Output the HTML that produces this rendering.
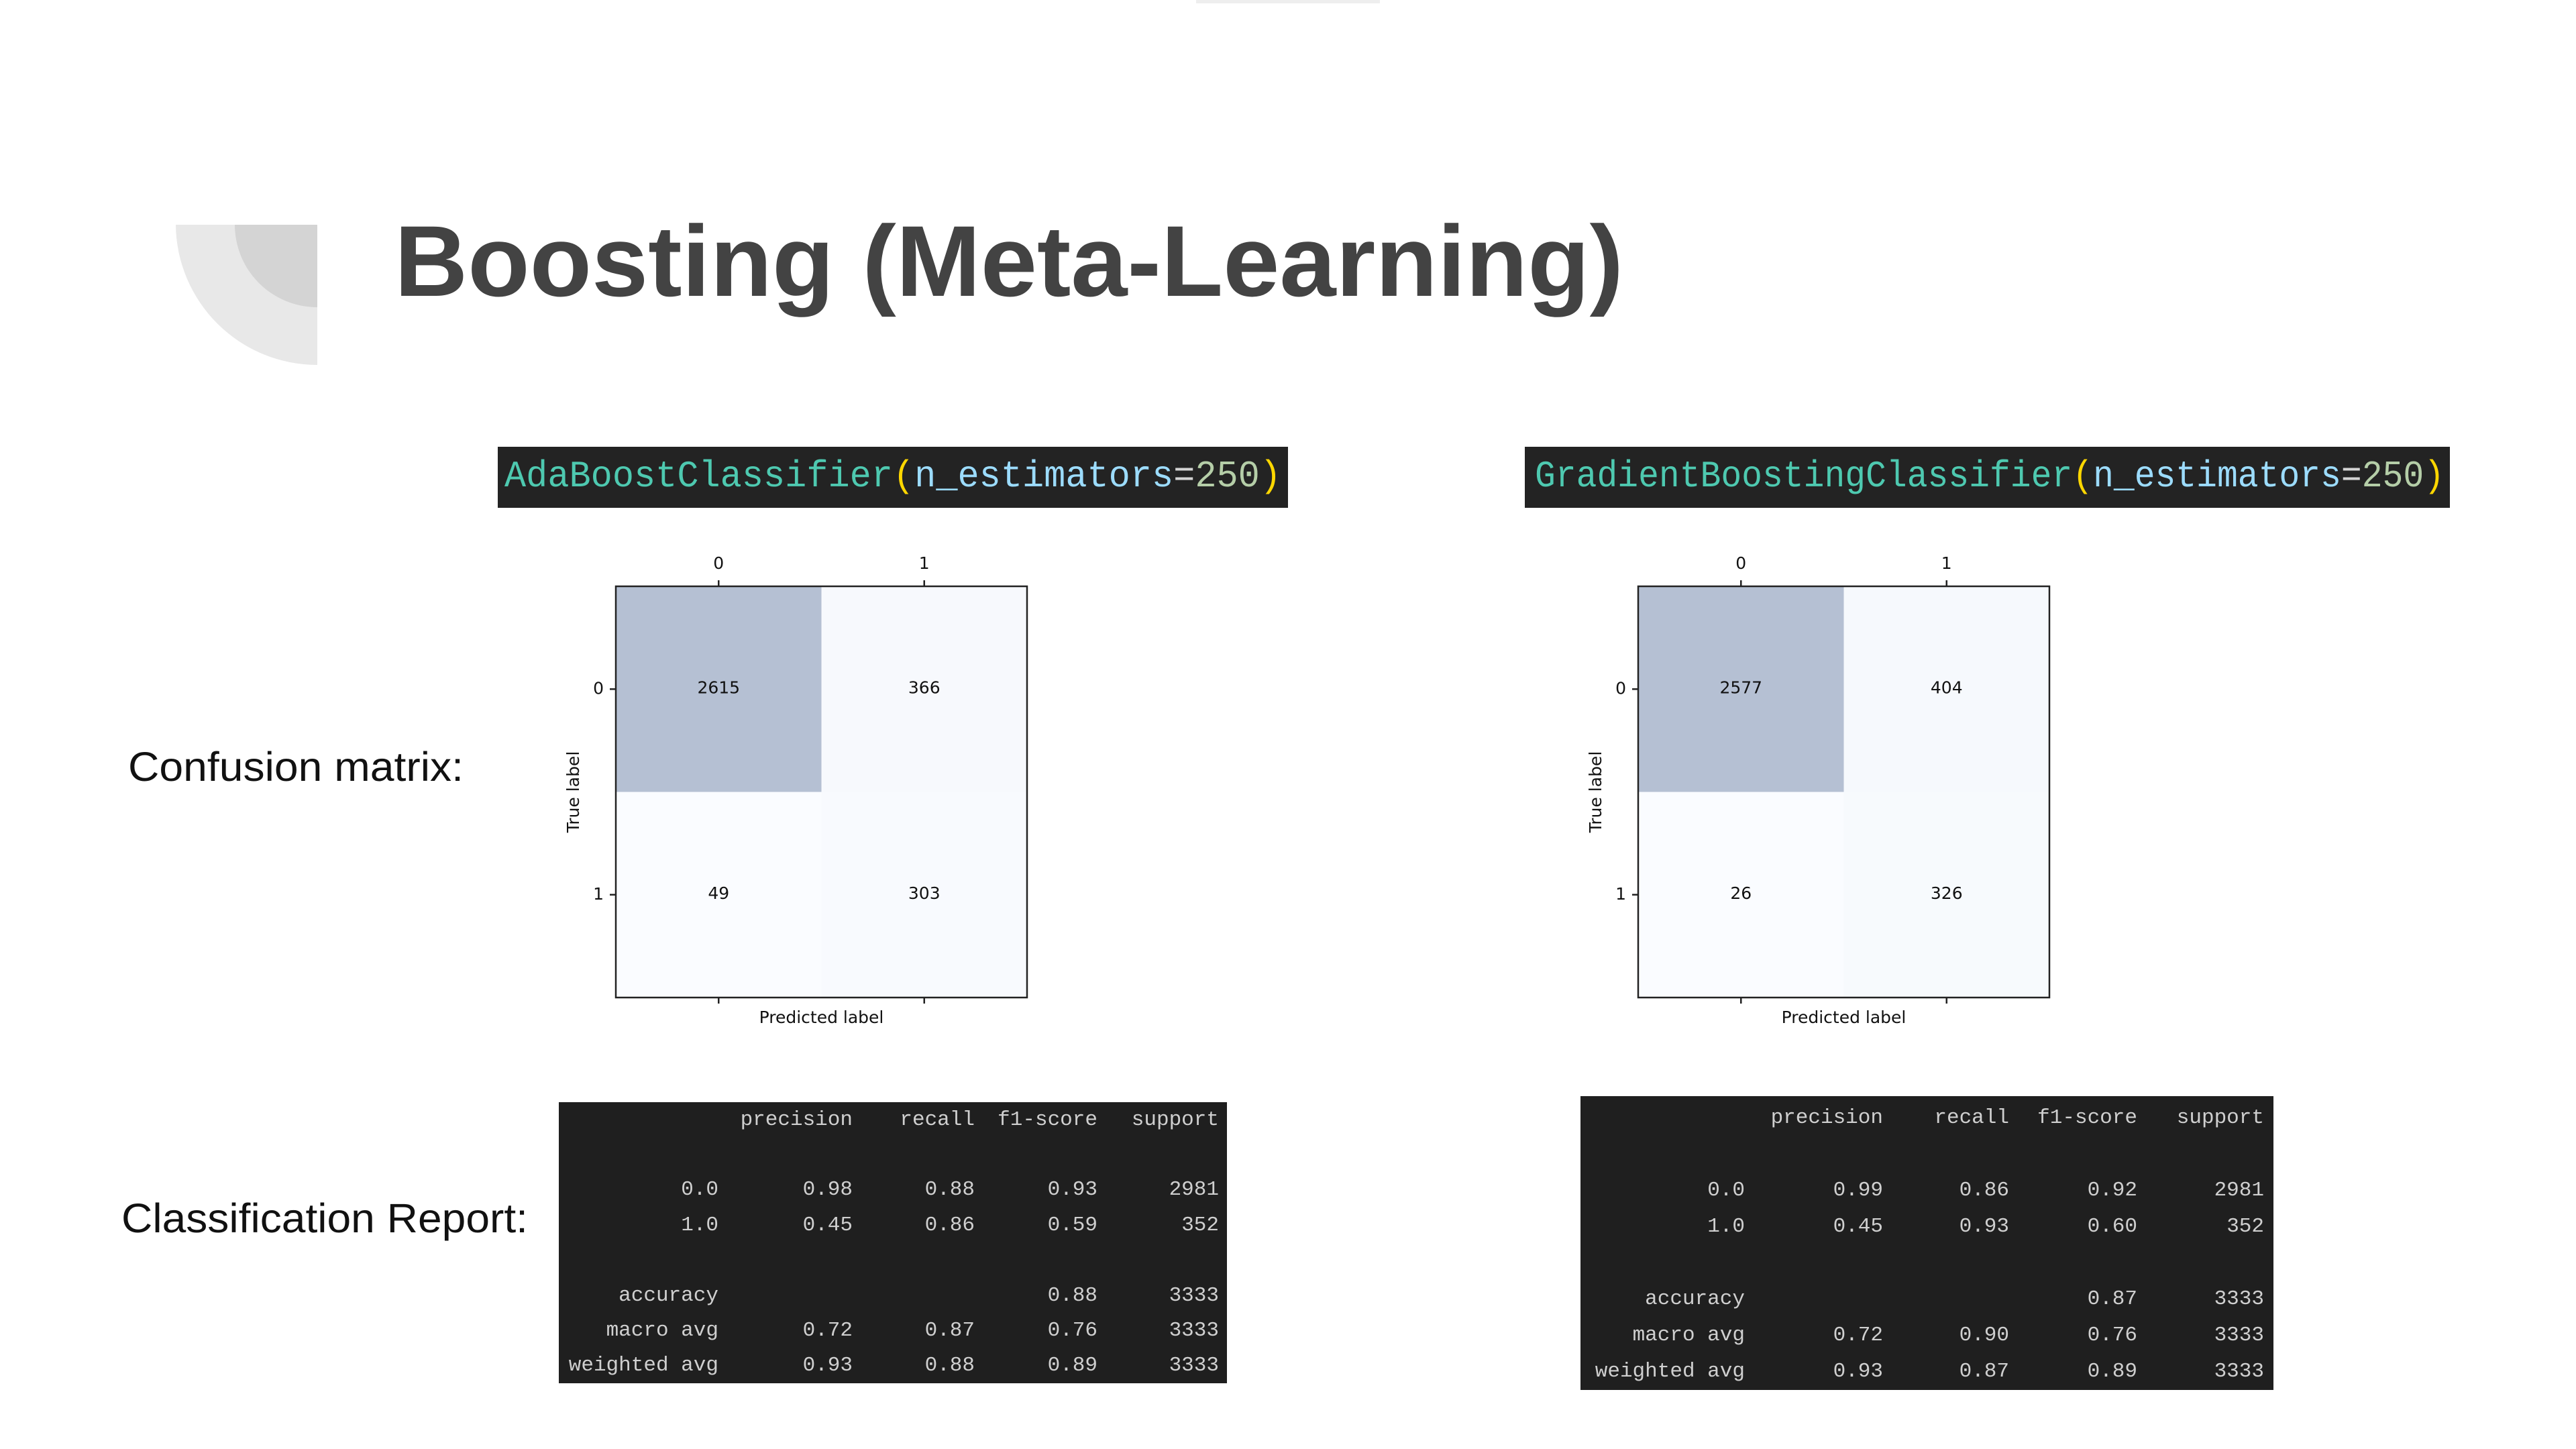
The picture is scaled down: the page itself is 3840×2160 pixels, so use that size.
<!DOCTYPE html>
<html><head><meta charset="utf-8"><style>
html,body{margin:0;padding:0;background:#fff;}
svg{display:block;}
</style></head><body>
<svg id="page" width="3840" height="2160" viewBox="0 0 3840 2160" xmlns="http://www.w3.org/2000/svg">
<rect x="0" y="0" width="3840" height="2160" fill="#ffffff"/>
<rect x="1783" y="0" width="274" height="5" fill="#eeeeee"/>
<g>
<path d="M262 335 L473 335 L473 544 A211 211 0 0 1 262 335 Z" fill="#e8e8e8"/>
<path d="M350 335 L473 335 L473 458 A123 123 0 0 1 350 335 Z" fill="#d4d4d4"/>
</g>
<text x="588" y="441" font-family="Liberation Sans, sans-serif" font-weight="bold" font-size="150" fill="#434343" textLength="1832" lengthAdjust="spacingAndGlyphs">Boosting (Meta-Learning)</text>
<text x="191" y="1164" font-family="Liberation Sans, sans-serif" font-size="61" fill="#111" textLength="500" lengthAdjust="spacingAndGlyphs">Confusion matrix:</text>
<text x="181" y="1837" font-family="Liberation Sans, sans-serif" font-size="61" fill="#111" textLength="606" lengthAdjust="spacingAndGlyphs">Classification Report:</text>

<g>
<rect x="742" y="666" width="1178" height="91" fill="#232323"/>
<text x="752" y="725" font-family="Liberation Mono, monospace" font-size="56" textLength="1158" lengthAdjust="spacingAndGlyphs"><tspan fill="#4ec9b0">AdaBoostClassifier</tspan><tspan fill="#ffd700">(</tspan><tspan fill="#9cdcfe">n_estimators</tspan><tspan fill="#d4d4d4">=</tspan><tspan fill="#b5cea8">250</tspan><tspan fill="#ffd700">)</tspan></text>
</g>
<g>
<rect x="2273" y="666" width="1379" height="91" fill="#232323"/>
<text x="2288" y="725" font-family="Liberation Mono, monospace" font-size="56" textLength="1356" lengthAdjust="spacingAndGlyphs"><tspan fill="#4ec9b0">GradientBoostingClassifier</tspan><tspan fill="#ffd700">(</tspan><tspan fill="#9cdcfe">n_estimators</tspan><tspan fill="#d4d4d4">=</tspan><tspan fill="#b5cea8">250</tspan><tspan fill="#ffd700">)</tspan></text>
</g>
<g id="charts"></g>
</svg>
<script>
// Confusion matrix data
const classLabels = ["0", "1"];
const adaMatrix = [[2615, 366], [49, 303]];
const gbMatrix = [[2577, 404], [26, 326]];
// Classification report data
const reportHeaders = ["precision", "recall", "f1-score", "support"];
const reportRowLabels = ["0.0", "1.0", "accuracy", "macro avg", "weighted avg"];
const adaReport = [["0.98","0.88","0.93","2981"],["0.45","0.86","0.59","352"],["","","0.88","3333"],["0.72","0.87","0.76","3333"],["0.93","0.88","0.89","3333"]];
const gbReport = [["0.99","0.86","0.92","2981"],["0.45","0.93","0.60","352"],["","","0.87","3333"],["0.72","0.90","0.76","3333"],["0.93","0.87","0.89","3333"]];

const NS = "http://www.w3.org/2000/svg";
const root = document.getElementById('charts');
function mk(tag, attrs, parent) {
  const e = document.createElementNS(NS, tag);
  for (const k in attrs) e.setAttribute(k, attrs[k]);
  parent.appendChild(e);
  return e;
}
function cellColor(v, max) {
  const t = v / max;
  const lo = [250, 252, 255], hi = [181, 192, 211];
  const s = Math.pow(t, 1.6);
  const c = lo.map((l, i) => Math.round(l + (hi[i] - l) * s));
  return `rgb(${c[0]},${c[1]},${c[2]})`;
}
function drawMatrix(name, x0, y0, size, data) {
  const g = mk('g', {}, root);
  
  
  const n = classLabels.length, cs = size / n;
  const max = Math.max(...data.flat());
  const xs = i => x0 + cs * i + cs / 2;
  const ys = i => y0 + cs * i + cs / 2;
  for (let r = 0; r < n; r++) for (let c = 0; c < n; c++) {
    const rect = mk('rect', {x: x0 + cs * c, y: y0 + cs * r, width: cs, height: cs, fill: cellColor(data[r][c], max)}, g);
    
    
    const t = mk('text', {x: xs(c), y: ys(r) + 6, 'text-anchor': 'middle', 'font-family': 'DejaVu Sans, sans-serif', 'font-size': 25, fill: '#111'}, g);
    t.textContent = data[r][c];
    
    
  }
  mk('rect', {x: x0, y: y0, width: size, height: size, fill: 'none', stroke: '#222', 'stroke-width': 2.5}, g);
  for (let i = 0; i < n; i++) {
    mk('line', {x1: xs(i), x2: xs(i), y1: y0, y2: y0 - 9, stroke: '#222', 'stroke-width': 2.5}, g);
    mk('line', {x1: xs(i), x2: xs(i), y1: y0 + size, y2: y0 + size + 9, stroke: '#222', 'stroke-width': 2.5}, g);
    mk('line', {x1: x0, x2: x0 - 9, y1: ys(i), y2: ys(i), stroke: '#222', 'stroke-width': 2.5}, g);
    const tx = mk('text', {x: xs(i), y: y0 - 26, 'text-anchor': 'middle', 'font-family': 'DejaVu Sans, sans-serif', 'font-size': 25, fill: '#111'}, g);
    tx.textContent = classLabels[i];
    
    
    const ty = mk('text', {x: x0 - 18, y: ys(i) + 7, 'text-anchor': 'end', 'font-family': 'DejaVu Sans, sans-serif', 'font-size': 25, fill: '#111'}, g);
    ty.textContent = classLabels[i];
    
    
  }
  const xl = mk('text', {x: x0 + size / 2, y: y0 + size + 38, 'text-anchor': 'middle', 'font-family': 'DejaVu Sans, sans-serif', 'font-size': 25, fill: '#111'}, g);
  xl.textContent = 'Predicted label';
  
  
  const yl = mk('text', {x: 0, y: 0, 'text-anchor': 'middle', 'font-family': 'DejaVu Sans, sans-serif', 'font-size': 25, fill: '#111', transform: `translate(${x0 - 55},${y0 + size / 2}) rotate(-90)`}, g);
  yl.textContent = 'True label';
  
  
}
drawMatrix('adaboost-confusion-matrix', 918, 874, 613, adaMatrix);
drawMatrix('gradient-boosting-confusion-matrix', 2442, 874, 613, gbMatrix);

function drawReport(name, box, colsR, headerY, rowYs, data) {
  const g = mk('g', {}, root);
  
  
  mk('rect', {x: box[0], y: box[1], width: box[2], height: box[3], fill: '#1f1f1f'}, g);
  const style = {'text-anchor': 'end', 'font-family': 'Liberation Mono, monospace', 'font-size': 31, fill: '#cfcfcf'};
  reportHeaders.forEach((h, i) => {
    const t = mk('text', Object.assign({x: colsR[i + 1], y: headerY}, style), g);
    t.textContent = h;
    
    
  });
  reportRowLabels.forEach((lab, r) => {
    const t = mk('text', Object.assign({x: colsR[0], y: rowYs[r]}, style), g);
    t.textContent = lab;
    
    
    data[r].forEach((v, c) => {
      if (!v) return;
      const tv = mk('text', Object.assign({x: colsR[c + 1], y: rowYs[r]}, style), g);
      tv.textContent = v;
      
      
    });
  });
}
drawReport('adaboost-classification-report', [833, 1643, 996, 419], [1071, 1271, 1453, 1636, 1817], 1677, [1781, 1834, 1939, 1991, 2043], adaReport);
drawReport('gradient-boosting-classification-report', [2356, 1634, 1033, 438], [2601, 2807, 2995, 3186, 3375], 1674, [1782, 1836, 1944, 1998, 2052], gbReport);
</script>
</body></html>
